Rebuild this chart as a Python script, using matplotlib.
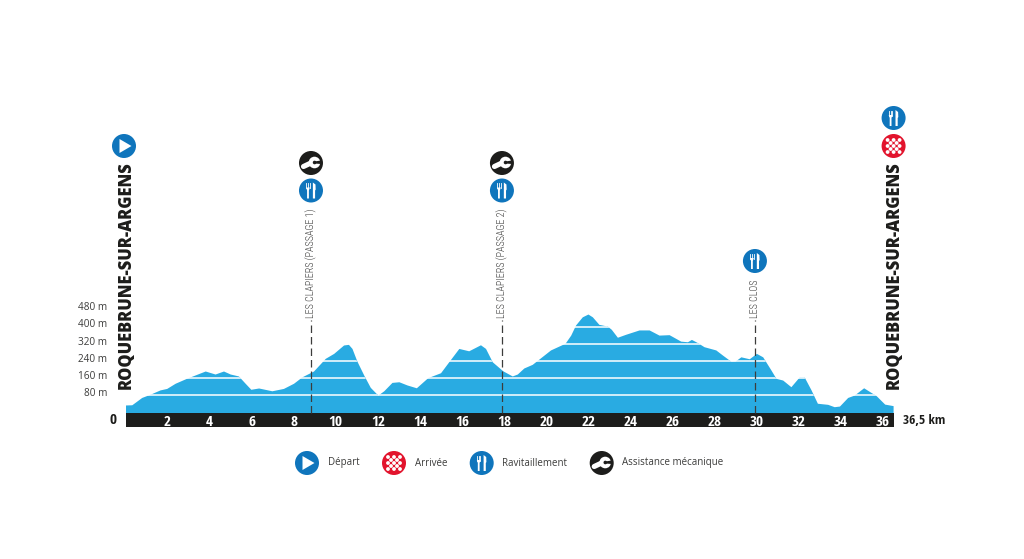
"""
Profil de l'etape: Roquebrune-sur-Argens, 36,5 km
"""
import numpy as np
import matplotlib
matplotlib.use("Agg")
import matplotlib.pyplot as plt
from matplotlib.patches import Circle, Polygon, Rectangle

W, H = 1024, 559

# profil (km, altitude en m)
km = [0, 0.3, 0.77, 1.17, 1.64, 1.96, 2.36, 2.9, 3.79, 4.26, 4.66, 4.98, 5.37, 5.69, 5.96,
      6.33, 6.96, 7.51, 7.99, 8.39, 8.94, 9.5, 9.9, 10.37, 10.6, 10.77, 11.0, 11.33, 11.64,
      12.0, 12.28, 12.67, 13.0, 13.39, 13.83, 14.37, 14.98, 15.37, 15.85, 16.32, 16.88,
      17.12, 17.44, 17.94, 18.39, 18.63, 18.94, 19.34, 20.21, 20.9, 21.17, 21.4, 21.72,
      21.99, 22.2, 22.51, 22.91, 23.1, 23.39, 23.79, 24.42, 24.9, 25.37, 25.85, 26.4,
      26.72, 26.91, 27.2, 27.51, 28.07, 28.39, 28.79, 29.0, 29.26, 29.66, 30.0, 30.3,
      30.69, 30.93, 31.25, 31.64, 32.04, 32.28, 32.6, 32.9, 33.39, 33.7, 33.95, 34.34,
      34.65, 35.1, 35.7, 36.1, 36.5]
alt = [35, 36, 70, 85, 105, 112, 136, 159, 193, 179, 193, 179, 170, 136, 108,
       114, 101, 112, 136, 166, 193, 252, 275, 314, 317, 298, 240, 174, 117,
       81, 101, 140, 143, 128, 115, 162, 185, 236, 298, 287, 315,
       298, 236, 194, 170, 179, 207, 224, 291, 322, 360, 407, 445,
       458, 445, 410, 402, 387, 350, 364, 384, 384, 360, 362, 332,
       329, 340, 325, 306, 291, 267, 238, 240, 259, 250, 275, 259,
       198, 159, 151, 120, 166, 164, 105, 43, 38, 27, 30, 70,
       81, 115, 78, 39, 32]

km_ticks = list(range(2, 37, 2))
alt_lignes = [80, 160, 240, 320, 400]
alt_labels = [80, 160, 240, 320, 400, 480]

# points de passage: km, nom, icones de haut en bas
passages = [
    (8.82, "LES CLAPIERS (PASSAGE 1)", ["assist", "ravito"]),
    (17.9, "LES CLAPIERS (PASSAGE 2)", ["assist", "ravito"]),
    (29.93, "LES CLOS", ["ravito"]),
]
legende = [("depart", "Départ"), ("arrivee", "Arrivée"),
           ("ravito", "Ravitaillement"), ("assist", "Assistance mécanique")]
ville = "ROQUEBRUNE-SUR-ARGENS"
distance = 36.5

BLEU = "#29ABE2"
BLEU_ICONE = "#0F75BC"
ROUGE = "#E2142D"
NOIR = "#1D1D1B"
GRIS = "#3C3C3B"
COND_BOLD = "Open Sans Condensed"
COND_LIGHT = "Roboto Condensed"

X0, PX_KM = 125.5, 21.03    # px du km 0, px par km
Y0, PX_M = 412.5, 17.2 / 80  # px de l'altitude 0, px par m

fig = plt.figure(figsize=(W / 100, H / 100), dpi=100, facecolor="white")

# axe en pixels pour le decor (icones, textes)
bg = fig.add_axes([0, 0, 1, 1])
bg.set_xlim(0, W)
bg.set_ylim(H, 0)
bg.axis("off")

# axe de donnees cale sur les pixels de l'image
top_m = 480
ax = fig.add_axes([X0 / W, (H - Y0) / H, distance * PX_KM / W, top_m * PX_M / H])
ax.patch.set_alpha(0)
ax.set_xlim(0, distance)
ax.set_ylim(0, top_m)
for s in ax.spines.values():
    s.set_visible(False)

# ── Profil ────────────────────────────────────────────────────────────────────
poly = ax.fill_between(km, 0, alt, color=BLEU, lw=0, zorder=2)
for a in alt_lignes:
    l = ax.axhline(a, color="white", lw=1.1, zorder=3)
    l.set_clip_path(poly.get_paths()[0], ax.transData)

# bande noire des km
bg.add_patch(Rectangle((X0, Y0), distance * PX_KM + 1, 14.5, fc=NOIR, ec="none", zorder=1))

ax.set_xticks(km_ticks)
ax.set_xticklabels([str(k) for k in km_ticks], family=COND_BOLD, fontweight="bold",
                   fontsize=11, color="white")
ax.tick_params(axis="x", length=0, pad=1.5)
ax.set_yticks([])
for a in alt_labels:
    ax.annotate(f"{a} m", (0, a), xytext=(-13.2, 1.2), textcoords="offset points",
                ha="right", va="center", fontsize=7.2, family="Open Sans", color=GRIS)

bg.text(113, 420.5, "0", ha="center", va="center", family=COND_BOLD, fontweight="bold",
        fontsize=11, color=NOIR)
bg.text(903, 420.5, "36,5 km", ha="left", va="center", family=COND_BOLD, fontweight="bold",
        fontsize=9.6, color=NOIR)


# ── Icones ────────────────────────────────────────────────────────────────────
def icone(kind, cx, cy, r=12.0):
    coul = {"depart": BLEU_ICONE, "ravito": BLEU_ICONE, "arrivee": ROUGE, "assist": NOIR}[kind]
    bg.add_patch(Circle((cx, cy), r, fc=coul, ec="none", zorder=5))
    if kind == "depart":
        bg.add_patch(Polygon([(cx - 4.5, cy - 7), (cx - 4.5, cy + 7), (cx + 7.5, cy)],
                             fc="white", ec="none", zorder=6))
    elif kind == "arrivee":
        pas = 3.0
        for i in range(-3, 4):
            for j in range(-3, 4):
                if (i + j) % 2 == 0 and np.hypot(i, j) * pas < r - 3.2:
                    bg.add_patch(Circle((cx + i * pas, cy + j * pas), 1.9,
                                        fc="white", ec="none", zorder=6))
    elif kind == "ravito":
        # fourchette
        fx = cx - 3
        for dx in (-1.6, 0, 1.6):
            bg.plot([fx + dx, fx + dx], [cy - 7.5, cy - 2.5], color="white", lw=0.6, zorder=6)
        bg.add_patch(Polygon([(fx - 1.9, cy - 3), (fx + 1.9, cy - 3), (fx + 0.9, cy),
                              (fx + 0.9, cy + 8), (fx - 0.9, cy + 8), (fx - 0.9, cy)],
                             fc="white", ec="none", zorder=6))
        # couteau
        kx = cx + 3
        bg.add_patch(Polygon([(kx - 1.1, cy - 8), (kx + 1.5, cy - 6), (kx + 1.7, cy - 1),
                              (kx + 1.1, cy), (kx + 1.1, cy + 8), (kx - 1.1, cy + 8)],
                             fc="white", ec="none", zorder=6))
    elif kind == "assist":
        # cle: manche incline + tete avec encoche
        bg.plot([cx - 7.5, cx + 1], [cy + 3.5, cy - 0.5], color="white", lw=3.7,
                solid_capstyle="round", zorder=6)
        bg.add_patch(Circle((cx + 3.5, cy - 0.5), 5.8, fc="white", ec="none", zorder=6))
        bg.add_patch(Polygon([(cx + 3.5, cy - 1.5), (cx + 10, cy - 2.5), (cx + 10, cy + 1),
                              (cx + 3.5, cy + 0.5)], fc=NOIR, ec="none", zorder=7))
        bg.add_patch(Circle((cx + 3.6, cy - 0.5), 1.8, fc=NOIR, ec="none", zorder=7))


def x_px(k):
    return X0 + k * PX_KM


# depart et arrivee
icone("depart", x_px(0) - 1.5, 146)
icone("arrivee", x_px(distance) + 0.5, 146)
icone("ravito", x_px(distance) + 0.5, 118)
for xv in (126, 894):
    bg.text(xv, 389, ville, rotation=90, ha="center", va="bottom", family="Open Sans",
            fontweight=800, fontsize=11.9, color=NOIR)

# ── Points de passage ─────────────────────────────────────────────────────────
for k, nom, ics in passages:
    ax.plot([k, k], [0, 430], color=GRIS, lw=0.9, dashes=(6, 3.2), zorder=4, clip_on=False)
    xp = x_px(k)
    bg.text(xp, 318, nom, rotation=90, ha="center", va="bottom", family=COND_LIGHT,
            fontweight=300, fontsize=7.2, color=GRIS)
    if len(ics) == 2:
        icone(ics[0], xp, 163)
        icone(ics[1], xp, 190.5)
    else:
        icone(ics[0], xp, 261)

# ── Legende ───────────────────────────────────────────────────────────────────
for (kind, txt), xi, xt in zip(legende, [307, 394, 481.7, 601.7], [327.7, 414.7, 502, 622]):
    icone(kind, xi, 463)
    bg.text(xt, 463, txt, ha="left", va="center", family="Open Sans", fontsize=7.0, color=GRIS)

fig.savefig("out.png", dpi=100)
